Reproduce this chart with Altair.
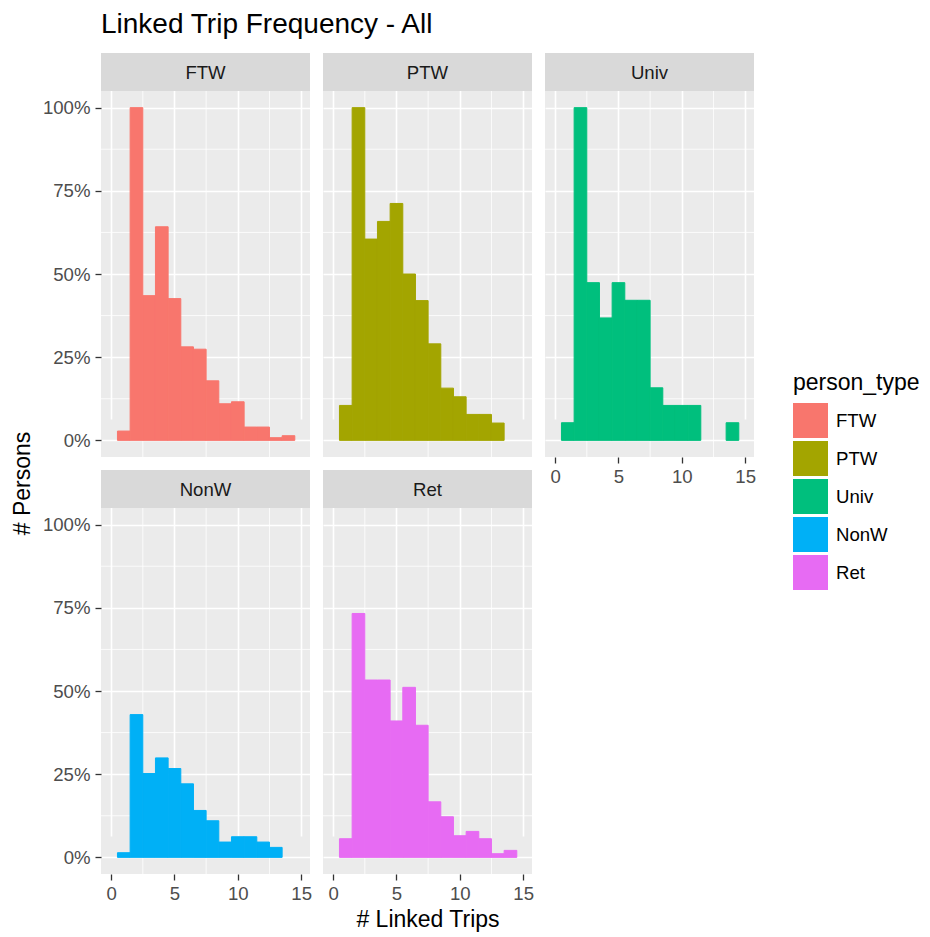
import altair as alt
import pandas as pd

person_types = ["FTW", "PTW", "Univ", "NonW", "Ret"]
colors = ["#F8766D", "#A3A500", "#00BF7D", "#00B0F6", "#E76BF3"]

# share of persons (relative to the modal bin) for 1..N linked trips
ftw_share = [0.028, 1.000, 0.435, 0.642, 0.426, 0.281, 0.274, 0.179, 0.110, 0.116, 0.040, 0.040, 0.008, 0.014]
ptw_share = [0.105, 1.000, 0.605, 0.658, 0.712, 0.500, 0.420, 0.290, 0.157, 0.131, 0.078, 0.078, 0.052]
univ_share = [0.053, 1.000, 0.474, 0.368, 0.474, 0.421, 0.421, 0.158, 0.105, 0.105, 0.105, 0.0, 0.0, 0.053]
nonw_share = [0.014, 0.429, 0.252, 0.299, 0.267, 0.221, 0.141, 0.110, 0.046, 0.062, 0.062, 0.046, 0.030]
ret_share = [0.056, 0.733, 0.533, 0.533, 0.410, 0.511, 0.397, 0.167, 0.122, 0.065, 0.078, 0.056, 0.011, 0.021]

x_major = [0, 5, 10, 15]
x_minor = [2.5, 7.5, 12.5]
y_major = [0, 0.25, 0.5, 0.75, 1.0]
y_minor = [0.125, 0.375, 0.625, 0.875]

series = dict(zip(person_types, [ftw_share, ptw_share, univ_share, nonw_share, ret_share]))
rows = []
for pt, vals in series.items():
    for i, v in enumerate(vals):
        if v > 0:
            rows.append({"person_type": pt, "trips": i + 1, "share": v})
df = pd.DataFrame(rows)

FONT = "Liberation Sans"
W, H, STRIP = 209, 366, 38
TOTAL = H + STRIP
xscale = alt.Scale(domain=[-0.8, 15.7], nice=False, zero=False)
yscale = alt.Scale(domain=[-0.05, 1.05], nice=False, zero=False, range=[TOTAL, STRIP])
color_scale = alt.Scale(domain=person_types, range=colors)
legend = alt.Legend(
    title="person_type", orient="none", legendX=692, legendY=319,
    titleFontSize=23, titleFont=FONT, titleFontWeight="normal", titleColor="#000000",
    labelFontSize=18.6, labelFont=FONT, labelColor="#000000",
    symbolType="square", symbolSize=1225, symbolStrokeWidth=0, symbolOpacity=1,
    rowPadding=3, labelOffset=8, titlePadding=8,
)


def panel(pt, show_x, show_y, x_title=None, y_title=None):
    d = df[df.person_type == pt]
    xaxis_kw = dict(values=x_major, grid=True, gridColor="#FFFFFF", gridWidth=1.6, domain=False,
                    labels=show_x, ticks=show_x, format="d", labelFont=FONT, labelFontSize=18.6,
                    labelColor="#4D4D4D", tickColor="#333333", tickWidth=1.3, tickSize=6,
                    labelPadding=4, title=x_title)
    if x_title:
        xaxis_kw.update(titleFont=FONT, titleFontSize=23, titleFontWeight="normal",
                        titleColor="#000000", titlePadding=6)
    yaxis_kw = dict(values=y_major, grid=True, gridColor="#FFFFFF", gridWidth=1.6, domain=False,
                    labels=show_y, ticks=show_y, format=".0%", labelFont=FONT, labelFontSize=18.6,
                    labelColor="#4D4D4D", tickColor="#333333", tickWidth=1.3, tickSize=6,
                    labelPadding=5, title=y_title)
    if y_title:
        yaxis_kw.update(titleFont=FONT, titleFontSize=23, titleFontWeight="normal",
                        titleColor="#000000", titleY=430, titlePadding=8)
    xaxis = alt.Axis(**xaxis_kw)
    yaxis = alt.Axis(**yaxis_kw)
    vminor = alt.Chart(pd.DataFrame({"v": x_minor})).mark_rule(color="#FFFFFF", strokeWidth=0.8).encode(
        x=alt.X("v:Q", scale=xscale, axis=xaxis))
    hminor = alt.Chart(pd.DataFrame({"v": y_minor})).mark_rule(color="#FFFFFF", strokeWidth=0.8).encode(
        y=alt.Y("v:Q", scale=yscale, axis=yaxis))
    bars = alt.Chart(d).transform_calculate(
        x0="datum.trips - 0.5", x1="datum.trips + 0.5", base="0"
    ).mark_rect(strokeWidth=1, opacity=1).encode(
        x=alt.X("x0:Q", scale=xscale, axis=xaxis),
        x2="x1:Q",
        y=alt.Y("base:Q", scale=yscale, axis=yaxis),
        y2="share:Q",
        color=alt.Color("person_type:N", scale=color_scale, legend=legend),
        stroke=alt.Stroke("person_type:N", scale=color_scale, legend=None),
    )
    lab = pd.DataFrame({"person_type": [pt]})
    strip_bg = alt.Chart(lab).mark_rect(color="#D9D9D9", opacity=1).encode(
        x=alt.value(0), x2=alt.value(W), y=alt.value(0), y2=alt.value(STRIP))
    strip_txt = alt.Chart(lab).mark_text(
        font=FONT, fontSize=18.6, color="#1A1A1A", baseline="middle", align="center"
    ).encode(text="person_type:N", x=alt.value(W / 2), y=alt.value(20))
    return alt.layer(vminor, hminor, bars, strip_bg, strip_txt).properties(
        width=W, height=TOTAL, view=alt.ViewBackground(fill="#EBEBEB", strokeWidth=0))


chart = alt.concat(
    panel("FTW", show_x=False, show_y=True, y_title="# Persons"),
    panel("PTW", show_x=False, show_y=False),
    panel("Univ", show_x=True, show_y=False),
    panel("NonW", show_x=True, show_y=True),
    panel("Ret", show_x=True, show_y=False, x_title="# Linked Trips"),
    columns=3, spacing=13, bounds="flush",
).properties(
    title=alt.TitleParams("Linked Trip Frequency - All", anchor="start", frame="group", font=FONT,
                          fontSize=28, fontWeight="normal", color="#000000", offset=14),
    padding={"left": 3, "top": 2, "right": 0, "bottom": 0},
).configure(background="#FFFFFF")

chart.save("out.html", embed_options={"renderer": "svg", "actions": False})
